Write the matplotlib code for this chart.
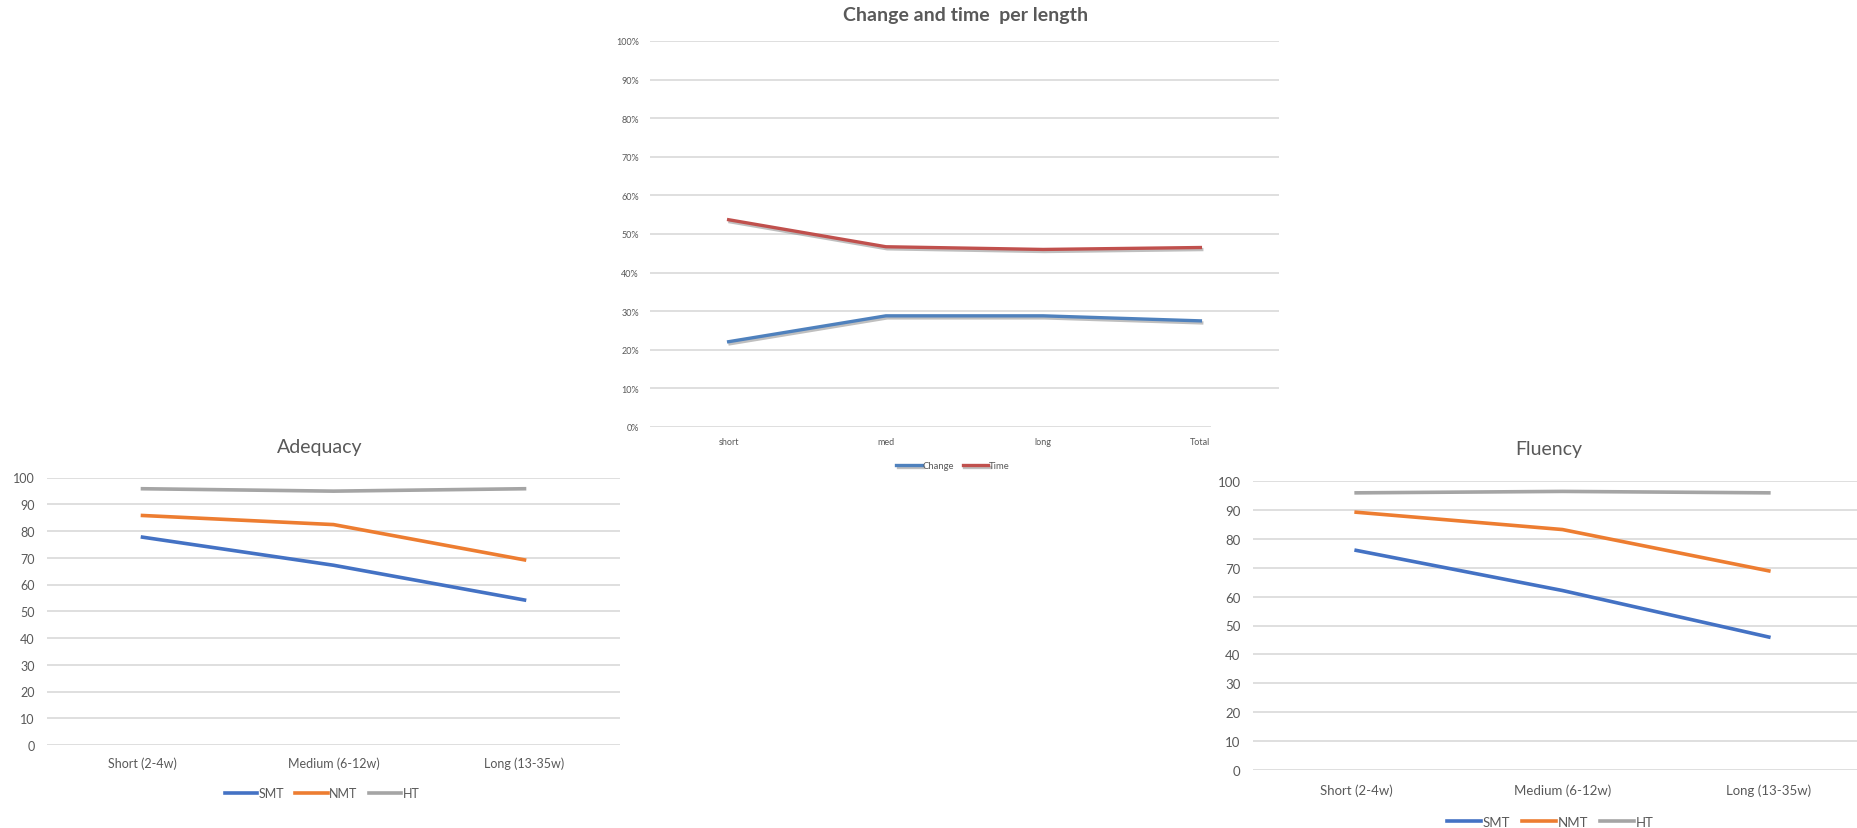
import numpy as np
import matplotlib
matplotlib.use('Agg')
import matplotlib.pyplot as plt
import matplotlib.patheffects as pe
from matplotlib.patches import Rectangle
from matplotlib.ticker import PercentFormatter

plt.rcParams['font.family'] = ['Lato', 'DejaVu Sans']

# Change / time ratios per sentence length
length_cats = ['short', 'med', 'long', 'Total']
change = [0.221, 0.288, 0.288, 0.275]
time_share = [0.537, 0.467, 0.460, 0.465]

# Human evaluation scores per sentence length
quality_cats = ['Short (2-4w)', 'Medium (6-12w)', 'Long (13-35w)']
adequacy_smt = [77.7, 67.2, 54.2]
adequacy_nmt = [85.8, 82.4, 69.2]
adequacy_ht = [95.8, 94.9, 95.8]
fluency_smt = [76.0, 62.1, 46.0]
fluency_nmt = [89.2, 83.2, 68.9]
fluency_ht = [95.9, 96.4, 95.9]

W, H = 1857, 829
fig = plt.figure(figsize=(W / 100, H / 100), dpi=100)
fig.patch.set_facecolor('white')

txt = '#595959'
grid = '#d9d9d9'


def px_axes(x0, x1, ytop, ybot, z):
    # axes placed by pixel edges of the plot area
    ax = fig.add_axes([x0 / W, (H - ybot) / H, (x1 - x0) / W, (ybot - ytop) / H])
    ax.set_zorder(z)
    ax.set_facecolor('none')
    for s in ax.spines.values():
        s.set_visible(False)
    ax.yaxis.grid(True, color=grid, linewidth=1.2)
    ax.set_axisbelow(True)
    return ax


# ---- Change and time per length
ax_m = px_axes(650, 1279, 42, 428, 0)
x = np.arange(len(length_cats))
shadow = [pe.SimpleLineShadow(offset=(1, -1.5), shadow_color='#808080', alpha=0.5), pe.Normal()]
ax_m.plot(x, change, color='#4f81bd', lw=2.4, label='Change', path_effects=shadow, solid_joinstyle='round')
ax_m.plot(x, time_share, color='#c0504d', lw=2.4, label='Time', path_effects=shadow, solid_joinstyle='round')
ax_m.set_xlim(-0.5, len(length_cats) - 0.5)
ax_m.set_ylim(0, 1)
ax_m.set_yticks(np.arange(0, 1.01, 0.1))
ax_m.yaxis.set_major_formatter(PercentFormatter(1.0, decimals=0))
ax_m.set_xticks(x)
ax_m.set_xticklabels(length_cats)
ax_m.tick_params(length=0, labelsize=6.5, colors=txt)
ax_m.tick_params(axis='y', pad=8)
ax_m.tick_params(axis='x', pad=7)
fig.text(966 / W, 1 - 16 / H, 'Change and time  per length', ha='center', va='center',
         fontsize=14, fontweight='bold', color=txt)
ax_m.legend(loc='center', bbox_to_anchor=(953 / W, 1 - 467 / H), bbox_transform=fig.transFigure,
            ncol=2, frameon=False, fontsize=6.8, labelcolor=txt, handlelength=2.7,
            handletextpad=0.1, columnspacing=0.9)

# white chart areas of the two score charts sit on top of the middle one
fig.patches.append(Rectangle((0, 0), 625 / W, (H - 425) / H, transform=fig.transFigure,
                             facecolor='white', edgecolor='none', zorder=1))
fig.patches.append(Rectangle((1211 / W, 0), 1 - 1211 / W, (H - 410) / H, transform=fig.transFigure,
                             facecolor='white', edgecolor='none', zorder=1))


def score_chart(ax, smt, nmt, ht, fs, xpad, legend_xy, title, title_xy):
    xs = np.arange(len(quality_cats))
    ax.plot(xs, smt, color='#4472c4', lw=2.6, label='SMT', solid_joinstyle='round')
    ax.plot(xs, nmt, color='#ed7d31', lw=2.6, label='NMT', solid_joinstyle='round')
    ax.plot(xs, ht, color='#a5a5a5', lw=2.6, label='HT', solid_joinstyle='round')
    ax.set_xlim(-0.5, len(quality_cats) - 0.5)
    ax.set_ylim(0, 100)
    ax.set_yticks(np.arange(0, 101, 10))
    ax.set_xticks(xs)
    ax.set_xticklabels(quality_cats)
    ax.tick_params(length=0, labelsize=fs, colors=txt)
    ax.tick_params(axis='y', pad=9)
    ax.tick_params(axis='x', pad=xpad)
    fig.text(title_xy[0] / W, 1 - title_xy[1] / H, title, ha='center', va='center',
             fontsize=14, color=txt)
    ax.legend(loc='center', bbox_to_anchor=(legend_xy[0] / W, 1 - legend_xy[1] / H),
              bbox_transform=fig.transFigure, ncol=3, frameon=False, fontsize=fs,
              labelcolor=txt, handlelength=2.6, handletextpad=0.1, columnspacing=0.9)


# ---- Adequacy
ax_a = px_axes(47, 620, 478.5, 746, 2)
score_chart(ax_a, adequacy_smt, adequacy_nmt, adequacy_ht, 9, 8, (322, 794), 'Adequacy', (320, 448))

# ---- Fluency
ax_f = px_axes(1253, 1872, 482, 771, 2)
score_chart(ax_f, fluency_smt, fluency_nmt, fluency_ht, 9.5, 10, (1550, 823), 'Fluency', (1549, 450))

fig.savefig('out.png', dpi=100, facecolor='white')
